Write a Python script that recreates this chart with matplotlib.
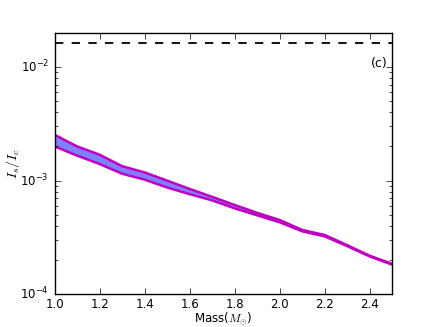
import numpy as np
import matplotlib
matplotlib.use('Agg')
import matplotlib.pyplot as plt

plt.style.use('classic')
plt.rcParams['axes.unicode_minus'] = False

# stellar mass grid and the two bounding ratios I_s/I_c
mass = [1.0, 1.1, 1.2, 1.3, 1.4, 1.5, 1.6, 1.7, 1.8, 1.9, 2.0, 2.1, 2.2, 2.3, 2.4, 2.5]
ratio_upper = [2.53e-3, 2.0e-3, 1.69e-3, 1.34e-3, 1.18e-3, 1.0e-3, 8.45e-4, 7.2e-4,
               6.1e-4, 5.2e-4, 4.5e-4, 3.68e-4, 3.32e-4, 2.7e-4, 2.18e-4, 1.85e-4]
ratio_lower = [2.0e-3, 1.66e-3, 1.40e-3, 1.15e-3, 1.02e-3, 8.7e-4, 7.6e-4, 6.7e-4,
               5.7e-4, 4.95e-4, 4.3e-4, 3.58e-4, 3.23e-4, 2.65e-4, 2.15e-4, 1.82e-4]
limit = 0.0161

fig = plt.figure(figsize=(4.36, 3.27), dpi=100)
fig.patch.set_facecolor('white')
ax = fig.add_subplot(111)

ax.fill_between(mass, ratio_lower, ratio_upper, color='#8080ff', lw=0)
ax.plot(mass, ratio_upper, color='#c000c0', lw=1.8)
ax.plot(mass, ratio_lower, color='#c000c0', lw=1.8)
ax.axhline(limit, color='k', ls='--', lw=1.3)

ax.set_yscale('log')
ax.set_xlim(1.0, 2.5)
ax.set_ylim(1e-4, 2e-2)
ax.set_xticks(np.arange(1.0, 2.45, 0.2))
ax.tick_params(labelsize=8.5)
ax.tick_params(axis='x', pad=3)
ax.set_xlabel(r'Mass($M_{\odot}$)', fontsize=8.5, labelpad=-0.5)
ax.set_ylabel(r'$I_s/I_c$', fontsize=10, labelpad=-1)
ax.text(0.985, 0.884, '(c)', transform=ax.transAxes, ha='right', va='center', fontsize=9)

fig.savefig('out.png', dpi=100, facecolor='white')
